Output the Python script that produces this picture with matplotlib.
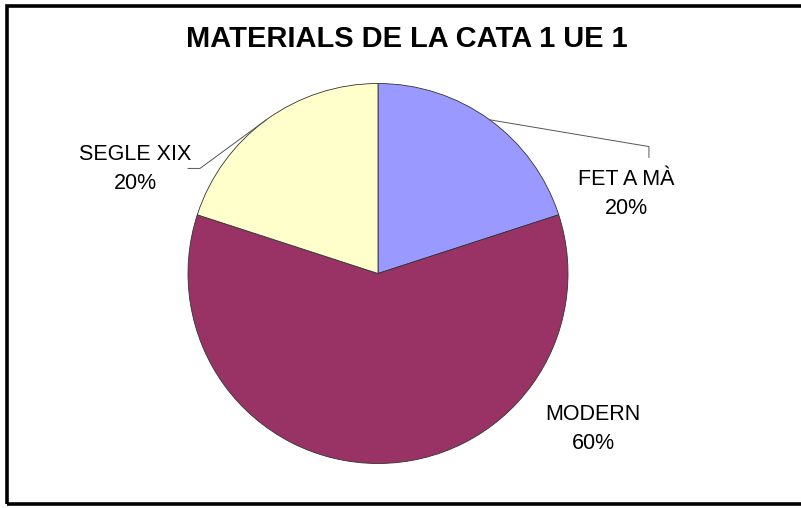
import numpy as np
import matplotlib
matplotlib.use("Agg")
import matplotlib.pyplot as plt
from matplotlib.patches import Rectangle

title = "MATERIALS DE LA CATA 1 UE 1"
categories = ["FET A MÀ", "MODERN", "SEGLE XIX"]
values = [20, 60, 20]
colors = ["#9999FF", "#993366", "#FFFFCC"]

W, H = 801, 508
fig = plt.figure(figsize=(W / 100, H / 100), dpi=100)
fig.patch.set_facecolor("white")

# outer frame (right edge lies beyond the image)
fig.patches.append(Rectangle((6.5 / W, (H - 503.5) / H), 810 / W, (503.5 - 5.5) / H,
                             transform=fig.transFigure, fill=False,
                             edgecolor="black", linewidth=2.6, zorder=10))

cx, cy, r = 378, 273.5, 190
ax = fig.add_axes([(cx - r) / W, (H - cy - r) / H, 2 * r / W, 2 * r / H])
ax.set_xlim(-1, 1)
ax.set_ylim(-1, 1)
ax.set_aspect("equal")
ax.axis("off")

wedges, _ = ax.pie(values, colors=colors, startangle=90, counterclock=False,
                   radius=1.0, center=(0, 0),
                   wedgeprops=dict(edgecolor="#333333", linewidth=0.6))
ax.set_xlim(-1, 1)
ax.set_ylim(-1, 1)

fig.text(407 / W, 1 - 39 / H, title, ha="center", va="center",
         fontsize=20.9, fontweight="bold", family="Liberation Sans")

total = sum(values)
pcts = [f"{round(v * 100 / total)}%" for v in values]

# label positions (in pie radius units) and leader elbows
label_pos = [(1.305, 0.418), (1.132, -0.821), (-1.279, 0.55)]
leaders = [[(1.426, 0.668), (1.426, 0.611)], None, [(-0.937, 0.553), (-1.0, 0.553)]]

for w, cat, pct, pos, ld in zip(wedges, categories, pcts, label_pos, leaders):
    ang = np.deg2rad((w.theta1 + w.theta2) / 2)
    if ld is not None:
        xs = [np.cos(ang)] + [p[0] for p in ld]
        ys = [np.sin(ang)] + [p[1] for p in ld]
        ax.plot(xs, ys, color="#555555", linewidth=0.7, clip_on=False)
    ax.text(pos[0], pos[1], f"{cat}\n{pct}", ha="center", va="center",
            fontsize=15.5, family="Liberation Sans", linespacing=1.5,
            clip_on=False)

fig.savefig("out.png", dpi=100)
